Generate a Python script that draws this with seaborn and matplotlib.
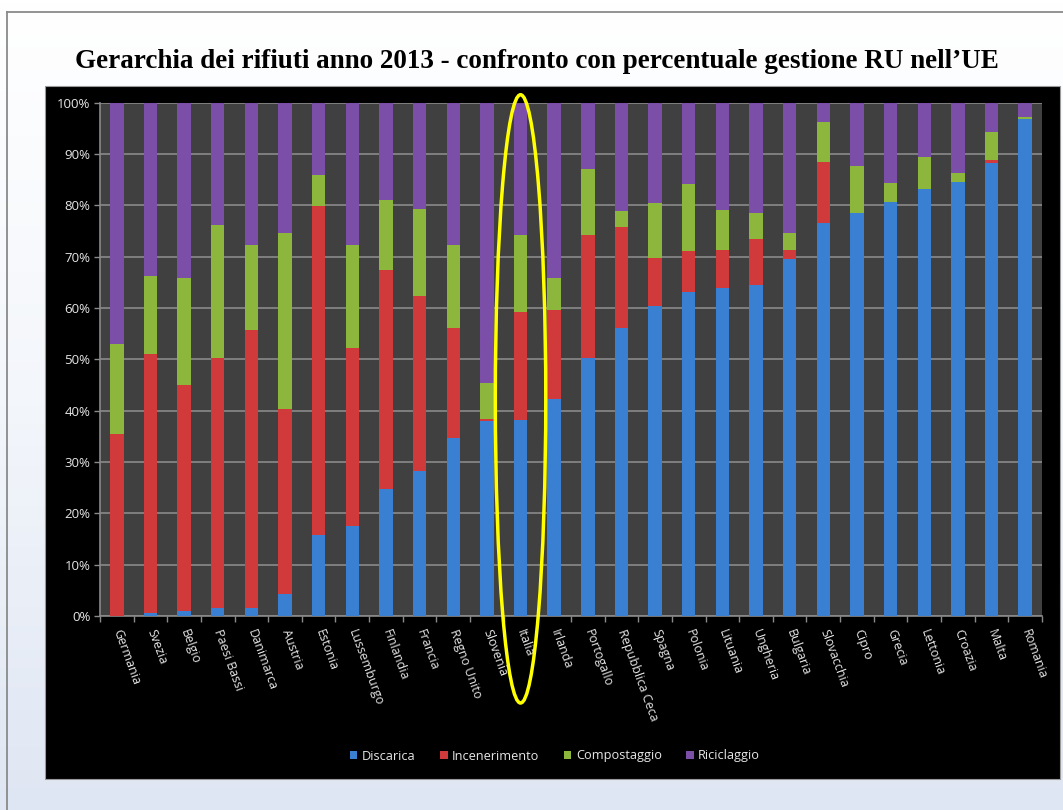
import numpy as np
import pandas as pd
import matplotlib
matplotlib.use("Agg")
import matplotlib.pyplot as plt
import seaborn as sns
from matplotlib.patches import Patch, Ellipse, Rectangle
from matplotlib.lines import Line2D
from matplotlib.colors import LinearSegmentedColormap

countries = ["Germania", "Svezia", "Belgio", "Paesi Bassi", "Danimarca", "Austria",
             "Estonia", "Lussemburgo", "Finlandia", "Francia", "Regno Unito", "Slovenia",
             "Italia", "Irlanda", "Portogallo", "Repubblica Ceca", "Spagna", "Polonia",
             "Lituania", "Ungheria", "Bulgaria", "Slovacchia", "Cipro", "Grecia",
             "Lettonia", "Croazia", "Malta", "Romania"]
discarica = [0.0, 0.5, 1.0, 1.5, 1.5, 4.2, 15.8, 17.5, 24.8, 28.3, 34.7, 37.9,
             38.2, 42.2, 50.3, 56.2, 60.4, 63.1, 63.9, 64.5, 69.6, 76.6, 78.6, 80.6,
             83.1, 84.6, 88.3, 96.9]
incenerimento = [35.4, 50.5, 44.1, 48.7, 54.2, 36.2, 64.1, 34.7, 42.6, 34.0, 21.4, 0.5,
                 21.0, 17.4, 23.9, 19.6, 9.4, 8.1, 7.4, 9.0, 1.7, 11.8, 0.0, 0.0,
                 0.0, 0.0, 0.5, 0.0]
compostaggio = [17.6, 15.2, 20.7, 26.0, 16.6, 34.3, 6.0, 20.0, 13.7, 16.9, 16.1, 6.9,
                15.0, 6.3, 12.8, 3.1, 10.6, 12.9, 7.7, 5.1, 3.4, 7.8, 9.0, 3.8,
                6.4, 1.8, 5.4, 0.3]
riciclaggio = [47.0, 33.8, 34.2, 23.8, 27.7, 25.3, 14.1, 27.8, 18.9, 20.8, 27.8, 54.7,
               25.8, 34.1, 13.0, 21.1, 19.6, 15.9, 21.0, 21.4, 25.3, 3.8, 12.4, 15.6,
               10.5, 13.6, 5.8, 2.8]
series_names = ["Discarica", "Incenerimento", "Compostaggio", "Riciclaggio"]
yticks = [0, 10, 20, 30, 40, 50, 60, 70, 80, 90, 100]
ytick_labels = [f"{v}%" for v in yticks]
title = "Gerarchia dei rifiuti anno 2013 - confronto con percentuale gestione RU nell\u2019UE"
highlight = "Italia"

colors = ["#3a80d2", "#d03a3a", "#8cb63c", "#7b4fa8"]

W, H = 1063, 810
fig = plt.figure(figsize=(W / 100, H / 100), dpi=100)

# slide background
bg = fig.add_axes([0, 0, 1, 1], zorder=-5)
grad = np.linspace(0, 1, 256)[:, None]
cmap = LinearSegmentedColormap.from_list("bg", ["#ffffff", "#f3f6fb", "#dfe6f3"])
bg.imshow(grad, aspect="auto", cmap=cmap, extent=[0, 1, 0, 1], origin="upper")
bg.set_xlim(0, 1)
bg.set_ylim(0, 1)
bg.axis("off")
bg.add_line(Line2D([6.5 / W, 6.5 / W], [0, 1 - 12 / H], color="#8a8a8a", lw=1.3))
bg.add_line(Line2D([6.5 / W, 1], [1 - 12 / H, 1 - 12 / H], color="#8a8a8a", lw=1.3))
bg.add_patch(Rectangle((45 / W, 1 - 779 / H), (1060 - 45) / W, (779 - 86) / H,
                       facecolor="black", edgecolor="#9a9a9a", lw=0.8))

fig.text(537 / W, 1 - 61 / H, title, ha="center", va="center",
         fontfamily="Liberation Serif", fontweight="bold", fontsize=19.5, color="black")

ax = fig.add_axes([100 / W, 1 - 616 / H, (1042 - 100) / W, (616 - 102.7) / H])
ax.set_facecolor("#404040")

df = pd.DataFrame({"Paese": countries, "Discarica": discarica,
                   "Incenerimento": incenerimento, "Compostaggio": compostaggio,
                   "Riciclaggio": riciclaggio})
cum = df[series_names].cumsum(axis=1)
for name, col in reversed(list(zip(series_names, colors))):
    sns.barplot(x=df["Paese"], y=cum[name], color=col, width=0.4, saturation=1,
                ax=ax, order=countries, zorder=3, linewidth=0)

ax.set_xlim(-0.5, len(countries) - 0.5)
ax.set_ylim(0, 100)
ax.set_yticks(yticks)
ax.set_yticklabels(ytick_labels, fontfamily="Open Sans", fontsize=9.5, color="#e6e6e6")
ax.yaxis.grid(True, color="#8a8a8a", lw=1.2, zorder=1)
ax.set_axisbelow(True)
ax.set_xlabel("")
ax.set_ylabel("")
ax.set_xticks(range(len(countries)))
ax.set_xticklabels(countries, rotation=-70, ha="left", va="center",
                   rotation_mode="anchor", fontfamily="Open Sans", fontsize=9, color="#e6e6e6")
ax.set_xticks(np.arange(-0.5, len(countries), 1), minor=True)
ax.tick_params(axis="x", which="major", length=0, pad=10)
ax.tick_params(axis="x", which="minor", length=4, color="#8a8a8a", width=1)
ax.tick_params(axis="y", length=4, color="#8a8a8a", width=1, pad=3)
for s in ["top", "right"]:
    ax.spines[s].set_visible(False)
for s in ["left", "bottom"]:
    ax.spines[s].set_color("#8a8a8a")
    ax.spines[s].set_linewidth(1.2)

# highlight ellipse around Italia
idx = countries.index(highlight)
ax.add_patch(Ellipse((idx, 42.3), 1.5, 118.5, fill=False, edgecolor="#ffff00",
                     lw=2.5, clip_on=False, zorder=10))

handles = [Patch(facecolor=c, edgecolor="none") for c in colors]
fig.legend(handles, series_names, loc="center", bbox_to_anchor=(555 / W, 1 - 756 / H),
           ncol=4, frameon=False, labelcolor="#e6e6e6", handlelength=0.6, handleheight=0.6,
           handletextpad=0.35, columnspacing=1.9, prop={"family": "Open Sans", "size": 9.2})

fig.savefig("out.png", dpi=100)
